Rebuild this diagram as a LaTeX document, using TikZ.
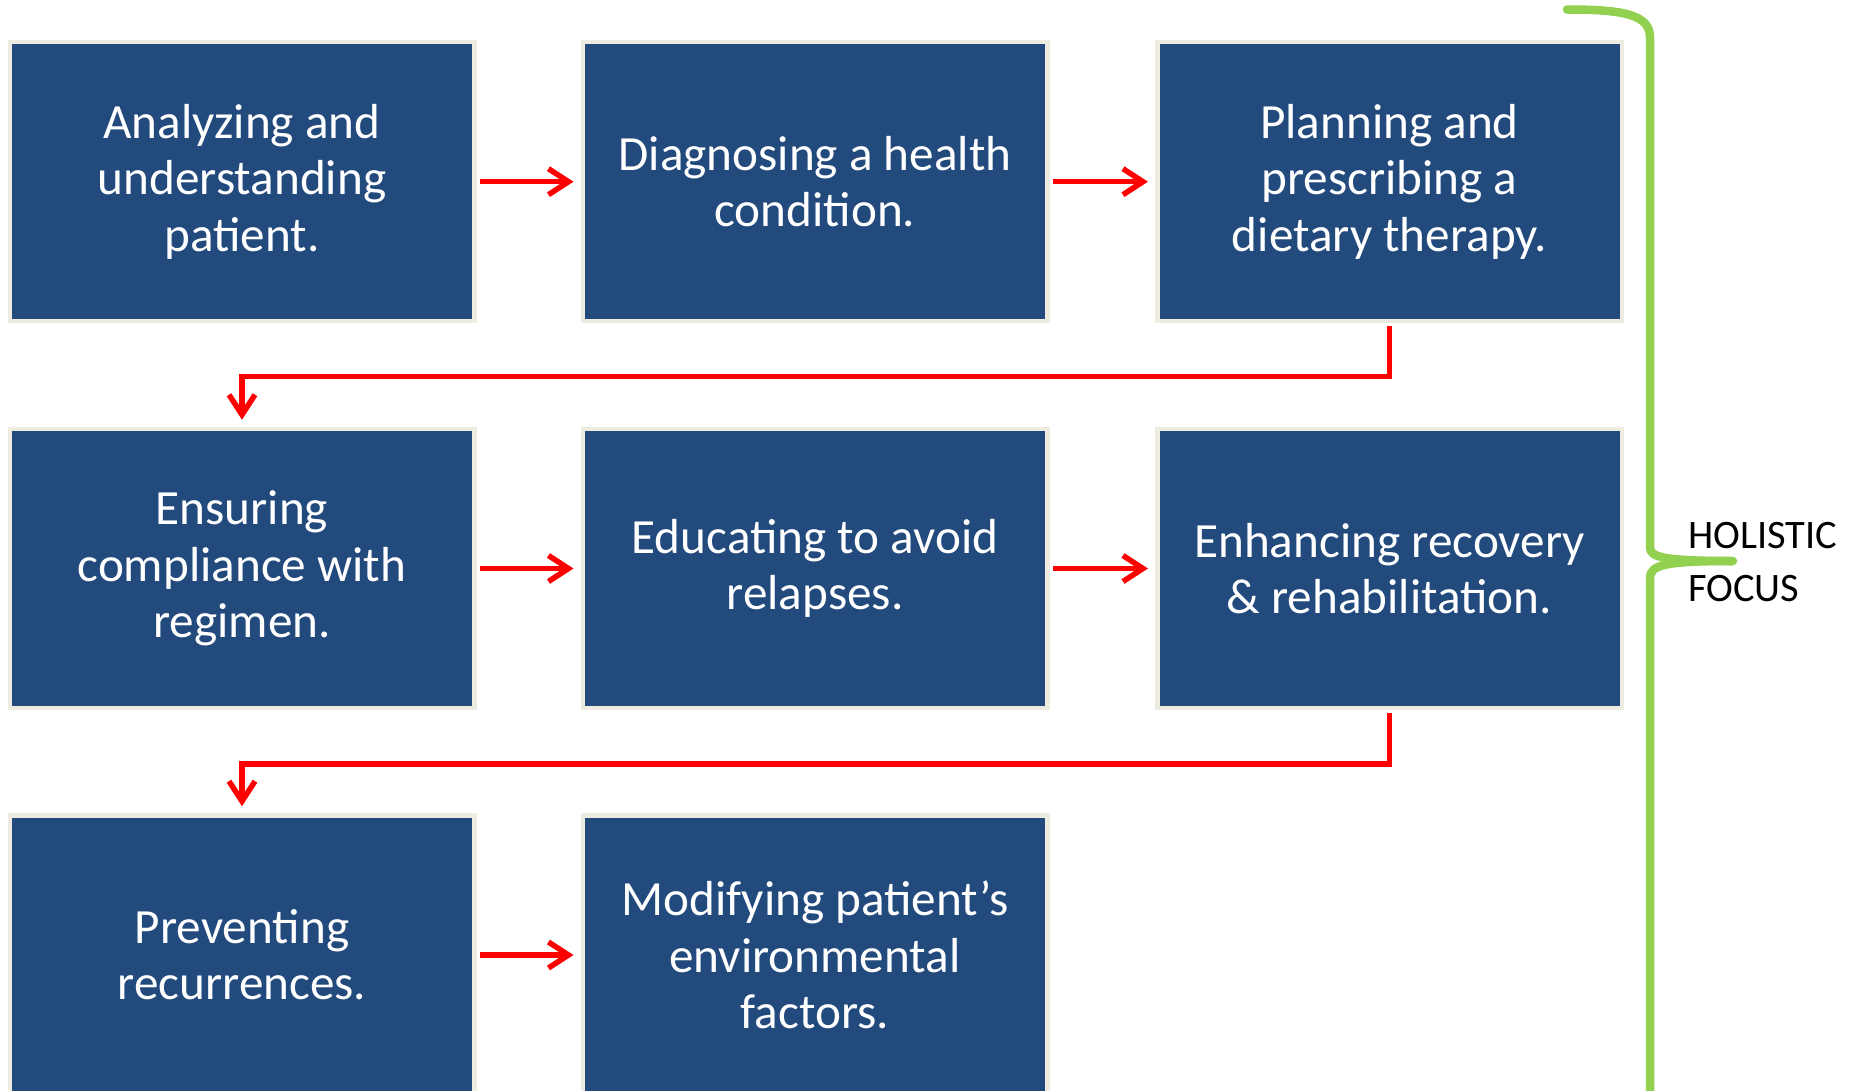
\documentclass[tikz,border=0pt]{standalone}
\usepackage{fontspec}
\setmainfont{Carlito}
\usetikzlibrary{arrows.meta}
\definecolor{stepblue}{HTML}{224A7D}
\definecolor{stepedge}{HTML}{EEECE1}
\definecolor{flowred}{HTML}{FF0000}
\definecolor{bracegreen}{HTML}{92D050}
\tikzset{
	stepbox/.style={rectangle, fill=stepblue, draw=stepedge, line width=0.09cm, minimum width=9.29cm, minimum height=5.58cm, inner sep=0pt, align=center, text=white, font=\fontsize{28}{32}\selectfont},
	flow/.style={draw=flowred, line width=0.11cm, -{Straight Barb[length=0.4cm,width=0.52cm]}, shorten <=0.06cm, shorten >=0.14cm}
}
\begin{document}
\begin{tikzpicture}
			\useasboundingbox (0,0) rectangle (37.02,-21.82);
			\node [stepbox] (analyze) at (4.84,-3.634) {Analyzing and\\understanding\\patient.};
			\node [stepbox] (diagnose) at (16.30,-3.634) {Diagnosing a health\\condition.};
			\node [stepbox] (plan) at (27.79,-3.634) {Planning and\\prescribing a\\dietary therapy.};
			\node [stepbox] (ensure) at (4.84,-11.37) {Ensuring\\compliance with\\regimen.};
			\node [stepbox] (educate) at (16.30,-11.37) {Educating to avoid\\relapses.};
			\node [stepbox] (enhance) at (27.79,-11.37) {Enhancing recovery\\\& rehabilitation.};
			\node [stepbox] (prevent) at (4.84,-19.10) {Preventing\\recurrences.};
			\node [stepbox] (modify) at (16.30,-19.10) {Modifying patient’s\\environmental\\factors.};
			\draw [flow] (analyze) -- (diagnose);
			\draw [flow] (diagnose) -- (plan);
			\draw [flow] (plan.south) -- ++(0,-1.06) -| (ensure.north);
			\draw [flow] (ensure) -- (educate);
			\draw [flow] (educate) -- (enhance);
			\draw [flow] (enhance.south) -- ++(0,-1.07) -| (prevent.north);
			\draw [flow] (prevent) -- (modify);
			\draw [bracegreen, line width=0.17cm, line cap=round] (31.34,-0.19) .. controls (32.5,-0.19) and (33.0,-0.3) .. (33.0,-0.75) -- (33.0,-10.95) .. controls (33.0,-11.15) and (33.3,-11.22) .. (34.66,-11.22);
			\draw [bracegreen, line width=0.17cm] (34.66,-11.22) .. controls (33.3,-11.22) and (33.0,-11.3) .. (33.0,-11.56) -- (33.0,-22.2);
			\node [anchor=west, align=left, inner sep=0pt, font=\fontsize{23}{30}\selectfont] (focus) at (33.76,-11.24) {HOLISTIC\\FOCUS};
		\end{tikzpicture}
\end{document}
